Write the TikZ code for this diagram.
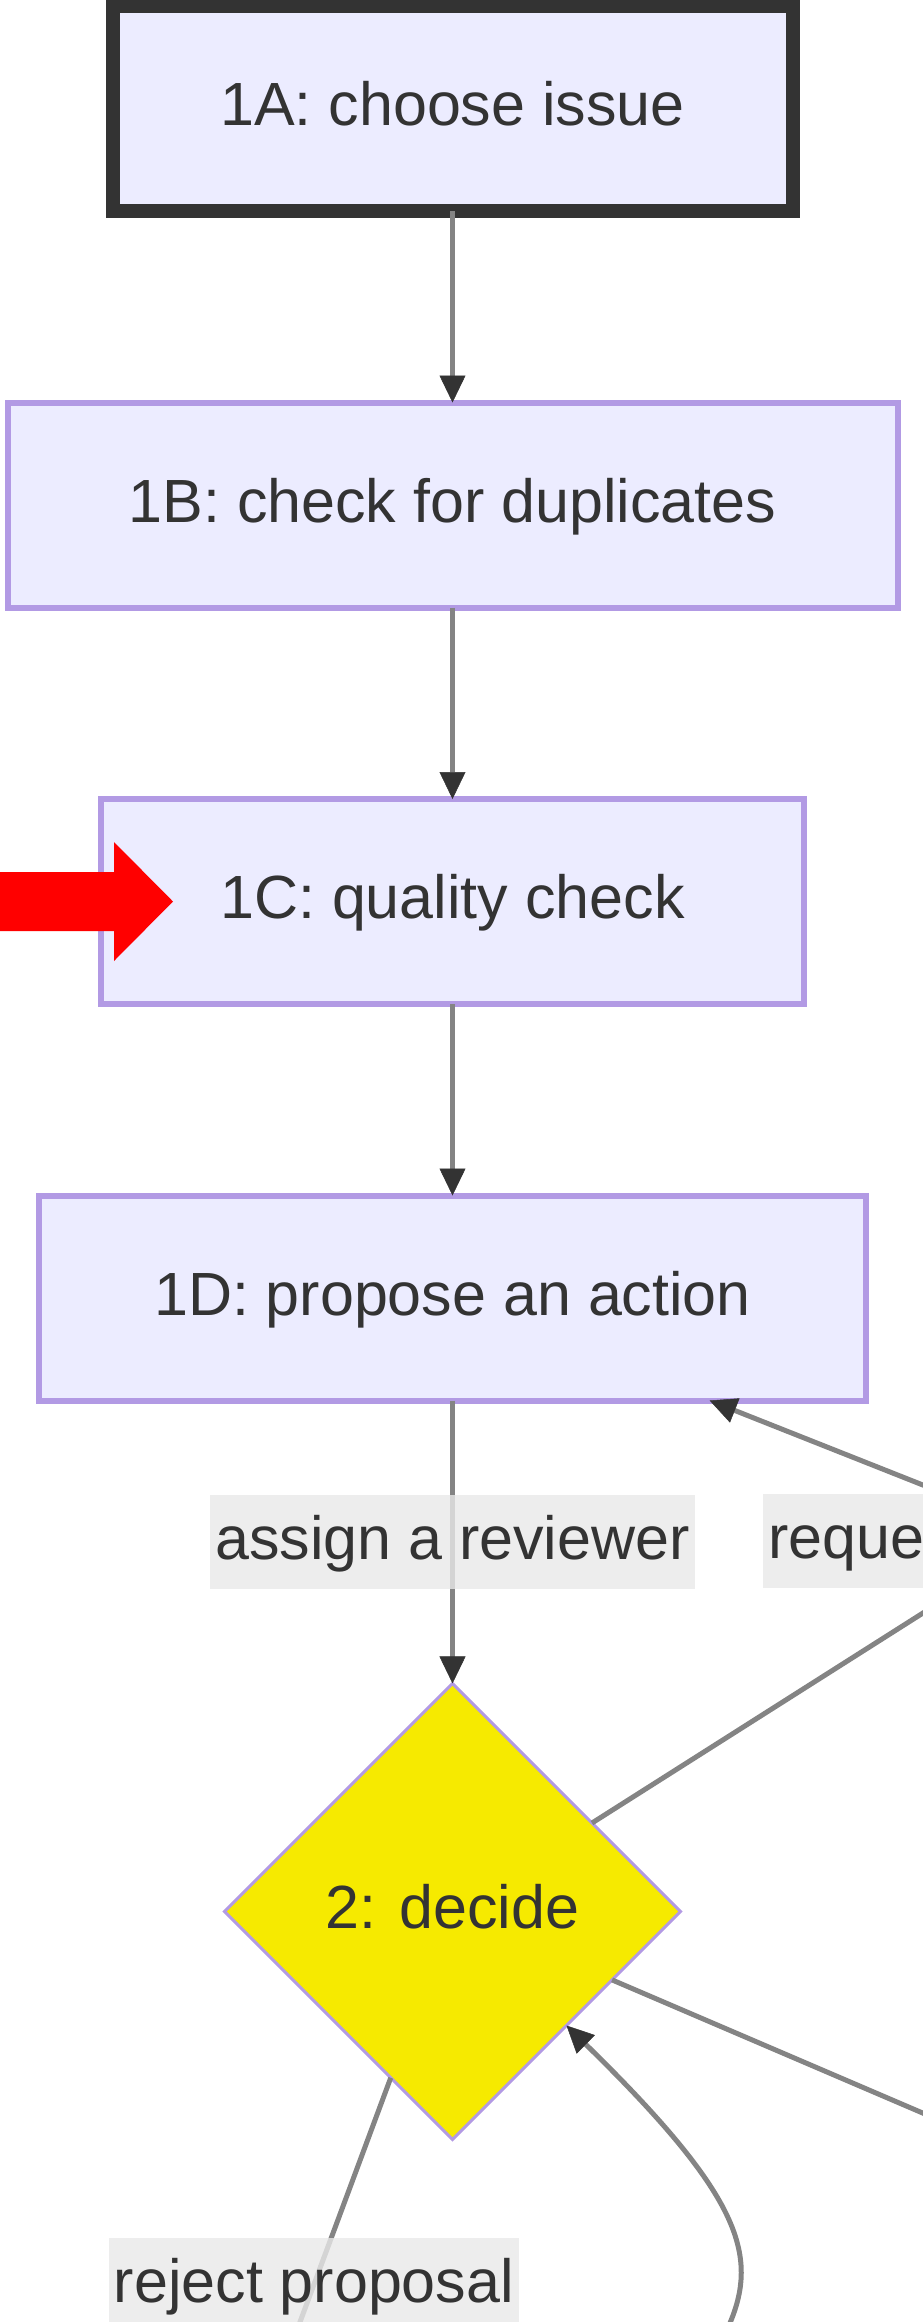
\documentclass[tikz,border=0pt]{standalone}
\usepackage{fontspec}
\setmainfont{Liberation Sans}
\usepackage{tikz}
\usetikzlibrary{positioning}
\usetikzlibrary{arrows.meta}
\usetikzlibrary{shapes}
\definecolor{boxfill}{HTML}{ECECFF}
\definecolor{boxline}{HTML}{B29AE4}
\definecolor{txt}{HTML}{333333}
\definecolor{edge}{HTML}{848484}
\definecolor{lblfill}{HTML}{E8E8E8}
\definecolor{decfill}{HTML}{F6EA00}

\begin{document}
\begin{tikzpicture}[x=1pt, y=1pt, node distance=191.5pt,
  every node/.style={font=\fontsize{61}{73}\selectfont, text=txt, outer sep=0pt, inner sep=0pt, text height=52.5pt, text depth=17.7pt},
  box/.style={draw=boxline, line width=6pt, fill=boxfill, minimum height=205pt},
  flow/.style={draw=edge, line width=5pt, -{Triangle[length=27pt,width=26pt,line width=0.5pt,color=txt]}},
  link/.style={draw=edge, line width=5pt},
  lbl/.style={fill=lblfill, fill opacity=0.8, text opacity=1, inner xsep=5pt, minimum height=94pt}]
\useasboundingbox (0,0) rectangle (923,-2322);
\clip (0,0) rectangle (923,-2322);
\node[box, draw=txt, line width=14pt, minimum width=680pt] (n1a) at (452.5,-108.5) {1A: choose issue};
\node[box, minimum width=890pt, below=of n1a] (n1b) {1B: check for duplicates};
\node[box, minimum width=703pt, below=of n1b] (n1c) {1C: quality check};
\node[box, minimum width=827pt, below=of n1c] (n1d) {1D: propose an action};
\node[diamond, draw=boxline, line width=3pt, fill=decfill, minimum width=456pt, minimum height=456pt, below=283pt of n1d] (n2) {2: decide};
%%%%%%%%%%%%%%%%%%%%%%%%%%%%%%%%%%%%%
\coordinate (aux1) at (960,-1499.7);
\coordinate (aux2) at (960,-1589.5);
\coordinate (aux3) at (960,-2129);
\coordinate (aux4) at (289.6,-2350);
\coordinate (aux5) at (722,-2340);
\node[lbl, anchor=west] (lrq) at (763,-1541) {request changes};
%%%%%%%%%%%%%%%%%%%%%%%%%%%%%%%%%%%%%
\draw[flow] (n1a) -- (n1b);
\draw[flow] (n1b) -- (n1c);
\draw[flow] (n1c) -- (n1d);
\draw[flow] (n1d) -- node[lbl] {assign a reviewer} (n2);
\draw[link] (n2) -- (aux2);
\draw[flow] (aux1) -- (n1d);
\draw[link] (n2) -- (aux3);
\draw[link] (n2) -- node[lbl, pos=0.76] {reject proposal} (aux4);
\draw[flow] (aux5) .. controls (762,-2262) and (750,-2205) .. (n2.-45);
%%%%%%%%%%
\fill[red] (0,-872) -- (114,-872) -- (114,-842) -- (173,-901.5) -- (114,-961) -- (114,-931) -- (0,-931) -- cycle;
\end{tikzpicture}
\end{document}
